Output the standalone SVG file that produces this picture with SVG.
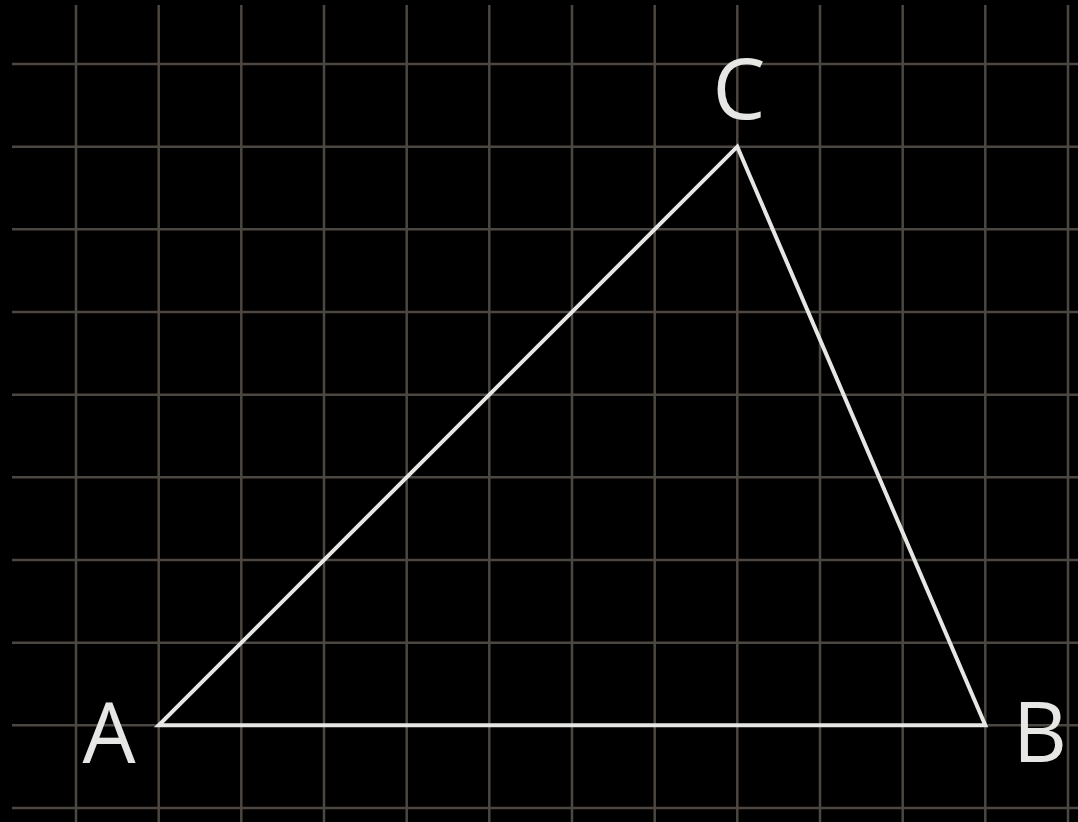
<svg xmlns="http://www.w3.org/2000/svg" width="1078" height="822" viewBox="0 0 1078 822">
<style>
.grid line{stroke:#4d4741;stroke-width:2.5}
.edge{stroke:#e6e6e4;stroke-width:4;fill:none;stroke-linejoin:miter}
.lbl{font-family:"Open Sans","Noto Sans",sans-serif;font-size:84px;fill:#e6e6e4;text-anchor:middle}
</style>
<rect width="1078" height="822" fill="#000"/>
<g class="grid">
<line x1="12" y1="64" x2="1078" y2="64"/>
<line x1="12" y1="146.7" x2="1078" y2="146.7"/>
<line x1="12" y1="229.3" x2="1078" y2="229.3"/>
<line x1="12" y1="312" x2="1078" y2="312"/>
<line x1="12" y1="394.7" x2="1078" y2="394.7"/>
<line x1="12" y1="477.3" x2="1078" y2="477.3"/>
<line x1="12" y1="560" x2="1078" y2="560"/>
<line x1="12" y1="642.7" x2="1078" y2="642.7"/>
<line x1="12" y1="725.3" x2="1078" y2="725.3"/>
<line x1="12" y1="808" x2="1078" y2="808"/>
<line x1="76" y1="5" x2="76" y2="822"/>
<line x1="158.7" y1="5" x2="158.7" y2="822"/>
<line x1="241.3" y1="5" x2="241.3" y2="822"/>
<line x1="324" y1="5" x2="324" y2="822"/>
<line x1="406.7" y1="5" x2="406.7" y2="822"/>
<line x1="489.3" y1="5" x2="489.3" y2="822"/>
<line x1="572" y1="5" x2="572" y2="822"/>
<line x1="654.7" y1="5" x2="654.7" y2="822"/>
<line x1="737.3" y1="5" x2="737.3" y2="822"/>
<line x1="820" y1="5" x2="820" y2="822"/>
<line x1="902.7" y1="5" x2="902.7" y2="822"/>
<line x1="985.3" y1="5" x2="985.3" y2="822"/>
<line x1="1068" y1="5" x2="1068" y2="822"/>
</g>
<g id="connectors">
<polygon class="edge" points="158.7,725.3 985.3,725.3 737.3,146.7"/>
</g>
<g id="A"><text class="lbl" x="109" y="763">A</text></g>
<g id="B"><text class="lbl" x="1040" y="762">B</text></g>
<g id="C"><text class="lbl" x="739" y="119">C</text></g>
</svg>
